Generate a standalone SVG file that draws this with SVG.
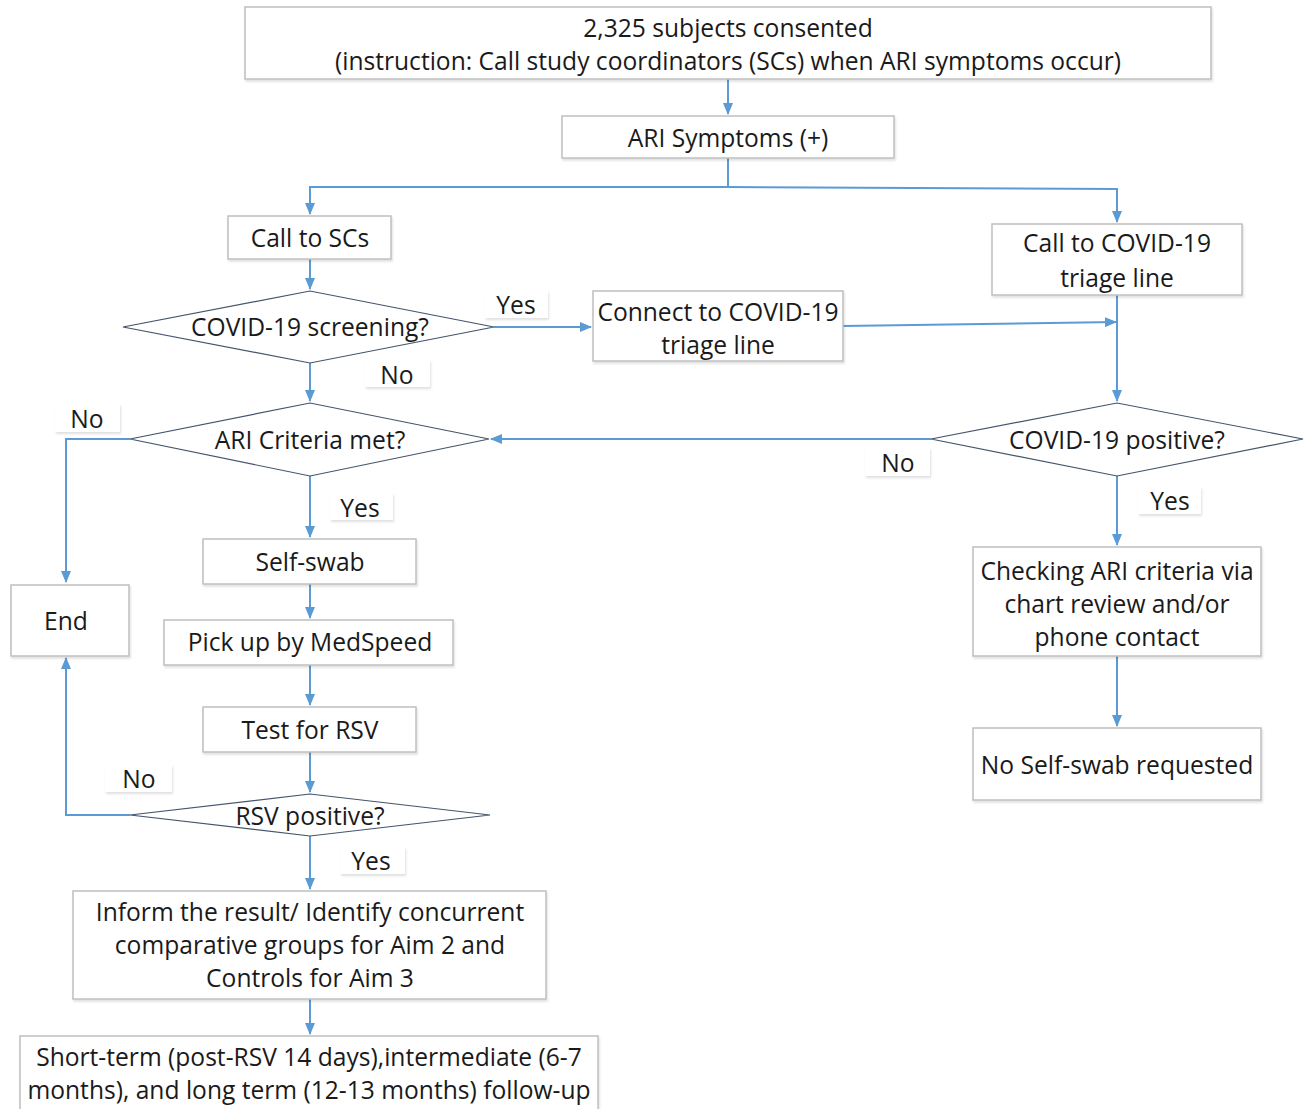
<svg xmlns="http://www.w3.org/2000/svg" width="1308" height="1109" viewBox="0 0 1308 1109">
<defs>
<marker id="ah" markerWidth="12" markerHeight="10" refX="11" refY="5" orient="auto" markerUnits="userSpaceOnUse">
<path d="M0,0 L12,5 L0,10 Z" fill="#5b9bd5"/>
</marker>
<filter id="sh" x="-10%" y="-10%" width="130%" height="140%">
<feDropShadow dx="1" dy="2" stdDeviation="1.2" flood-color="#000" flood-opacity="0.12"/>
</filter>
</defs>
<style>
.box{fill:#fff;stroke:#bfbfbf;stroke-width:1.5;filter:url(#sh)}
.dia{fill:#fff;stroke:#44546a;stroke-width:1.2}
.lbl{fill:#fff;filter:url(#sh)}
.t{font-family:"Open Sans","Noto Sans","Liberation Sans",sans-serif;font-size:24.6px;fill:#1a1a1a;text-anchor:middle;dominant-baseline:central}
.c{fill:none;stroke:#5b9bd5;stroke-width:2}
</style>
<rect width="1308" height="1109" fill="#fff"/>
<g id="connectors">
<path class="c" d="M728,79 V114" marker-end="url(#ah)"/>
<path class="c" d="M728,158 V187"/>
<path class="c" d="M728,187 H310 V214" marker-end="url(#ah)"/>
<path class="c" d="M728,187 L1117,189 V222" marker-end="url(#ah)"/>
<path class="c" d="M310,259 V289" marker-end="url(#ah)"/>
<path class="c" d="M494,327 H591" marker-end="url(#ah)"/>
<path class="c" d="M843,326 L1116,322" marker-end="url(#ah)"/>
<path class="c" d="M1117,295 V401" marker-end="url(#ah)"/>
<path class="c" d="M310,363 V401" marker-end="url(#ah)"/>
<path class="c" d="M931,439 H491" marker-end="url(#ah)"/>
<path class="c" d="M130,439 H66 V582" marker-end="url(#ah)"/>
<path class="c" d="M310,476 V537" marker-end="url(#ah)"/>
<path class="c" d="M310,584 V618" marker-end="url(#ah)"/>
<path class="c" d="M310,665 V705" marker-end="url(#ah)"/>
<path class="c" d="M310,752 V792" marker-end="url(#ah)"/>
<path class="c" d="M130,815 H66 V658" marker-end="url(#ah)"/>
<path class="c" d="M310,836 V889" marker-end="url(#ah)"/>
<path class="c" d="M310,999 V1034" marker-end="url(#ah)"/>
<path class="c" d="M1117,476 V545" marker-end="url(#ah)"/>
<path class="c" d="M1117,656 V726" marker-end="url(#ah)"/>
</g>
<g id="labels">
<rect class="lbl" x="485" y="291" width="63" height="27"/><text class="t" x="516" y="304">Yes</text>
<rect class="lbl" x="365" y="360" width="65" height="27"/><text class="t" x="397" y="374">No</text>
<rect class="lbl" x="55" y="404" width="65" height="28"/><text class="t" x="87" y="418">No</text>
<rect class="lbl" x="865" y="448" width="65" height="28"/><text class="t" x="898" y="462">No</text>
<rect class="lbl" x="330" y="493" width="63" height="27"/><text class="t" x="360" y="507">Yes</text>
<rect class="lbl" x="1138" y="487" width="63" height="27"/><text class="t" x="1170" y="500">Yes</text>
<rect class="lbl" x="105" y="765" width="67" height="27"/><text class="t" x="139" y="778">No</text>
<rect class="lbl" x="340" y="847" width="65" height="27"/><text class="t" x="371" y="860">Yes</text>
</g>
<g id="n1"><rect class="box" x="245" y="7" width="966" height="72"/>
<text class="t" x="728" y="27">2,325 subjects consented</text>
<text class="t" x="728" y="60">(instruction: Call study coordinators (SCs) when ARI symptoms occur)</text></g>
<g id="n2"><rect class="box" x="562" y="116" width="332" height="42"/><text class="t" x="728" y="137">ARI Symptoms (+)</text></g>
<g id="n3"><rect class="box" x="228" y="216" width="163" height="43"/><text class="t" x="310" y="237">Call to SCs</text></g>
<g id="n4"><rect class="box" x="992" y="224" width="250" height="71"/>
<text class="t" x="1117" y="242">Call to COVID-19</text><text class="t" x="1117" y="277">triage line</text></g>
<g id="n5"><polygon class="dia" points="123,327 310,291 494,327 310,363"/><text class="t" x="310" y="326">COVID-19 screening?</text></g>
<g id="n6"><rect class="box" x="593" y="291" width="250" height="70"/>
<text class="t" x="718" y="311">Connect to COVID-19</text><text class="t" x="718" y="344">triage line</text></g>
<g id="n7"><polygon class="dia" points="130,439 310,403 489,439 310,476"/><text class="t" x="310" y="439">ARI Criteria met?</text></g>
<g id="n8"><polygon class="dia" points="931,439 1117,403 1303,439 1117,476"/><text class="t" x="1117" y="439">COVID-19 positive?</text></g>
<g id="n9"><rect class="box" x="11" y="585" width="118" height="71"/><text class="t" x="66" y="620">End</text></g>
<g id="n10"><rect class="box" x="203" y="539" width="213" height="45"/><text class="t" x="310" y="561">Self-swab</text></g>
<g id="n11"><rect class="box" x="164" y="620" width="289" height="45"/><text class="t" x="310" y="641">Pick up by MedSpeed</text></g>
<g id="n12"><rect class="box" x="203" y="707" width="213" height="45"/><text class="t" x="310" y="729">Test for RSV</text></g>
<g id="n13"><polygon class="dia" points="130,815 310,794 490,815 310,836"/><text class="t" x="310" y="815">RSV positive?</text></g>
<g id="n14"><rect class="box" x="73" y="891" width="473" height="108"/>
<text class="t" x="310" y="911">Inform the result/ Identify concurrent</text>
<text class="t" x="310" y="944">comparative groups for Aim 2 and</text>
<text class="t" x="310" y="977">Controls for Aim 3</text></g>
<g id="n15"><rect class="box" x="20" y="1036" width="578" height="80"/>
<text class="t" x="309" y="1056">Short-term (post-RSV 14 days),intermediate (6-7</text>
<text class="t" x="309" y="1089">months), and long term (12-13 months) follow-up</text></g>
<g id="n16"><rect class="box" x="973" y="547" width="288" height="109"/>
<text class="t" x="1117" y="570">Checking ARI criteria via</text>
<text class="t" x="1117" y="603">chart review and/or</text>
<text class="t" x="1117" y="636">phone contact</text></g>
<g id="n17"><rect class="box" x="973" y="728" width="288" height="72"/><text class="t" x="1117" y="764">No Self-swab requested</text></g>
</svg>
